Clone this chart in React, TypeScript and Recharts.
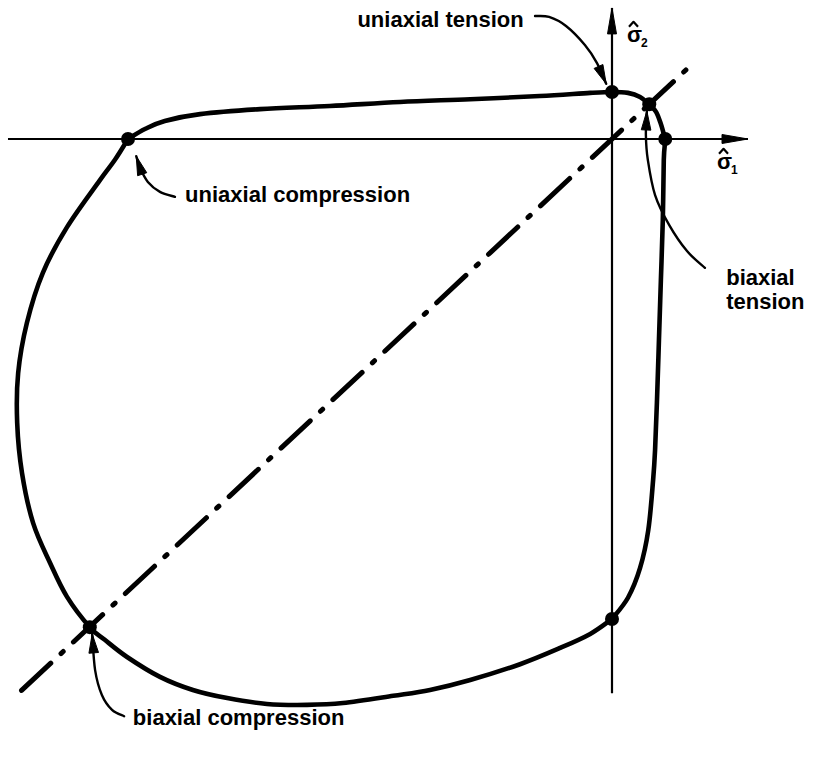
import React from 'react';
import { ComposedChart, Line, Scatter, XAxis, YAxis } from 'recharts';

// ---- data (normalised stresses) ----
const UPPER_BRANCH: number[][] = [
  [-1.0, 0.0], [-0.965, 0.022], [-0.924, 0.04], [-0.851, 0.055], [-0.727, 0.066],
  [-0.583, 0.073], [-0.438, 0.082], [-0.293, 0.088], [-0.149, 0.095], [-0.045, 0.102],
  [0.0, 0.104], [0.033, 0.102], [0.058, 0.093], [0.076, 0.077], [0.091, 0.06],
  [0.101, 0.033], [0.107, 0.011], [0.11, 0.0], [0.107, -0.046], [0.105, -0.179],
  [0.101, -0.312], [0.097, -0.445], [0.093, -0.577], [0.089, -0.688], [0.085, -0.754],
  [0.075, -0.865], [0.058, -0.949], [0.033, -1.015], [0.0, -1.062],
];
const LOWER_BRANCH: number[][] = [
  [0.0, -1.062], [-0.045, -1.095], [-0.107, -1.126], [-0.19, -1.162], [-0.293, -1.197],
  [-0.376, -1.219], [-0.452, -1.232], [-0.556, -1.248], [-0.63, -1.252], [-0.713, -1.25],
  [-0.795, -1.237], [-0.866, -1.219], [-0.934, -1.19], [-1.002, -1.146], [-1.048, -1.108],
  [-1.079, -1.08], [-1.126, -1.013], [-1.161, -0.938], [-1.196, -0.85], [-1.219, -0.739],
  [-1.229, -0.628], [-1.227, -0.518], [-1.209, -0.407], [-1.176, -0.296], [-1.126, -0.195],
  [-1.058, -0.091], [-1.027, -0.046], [-1.0, 0.0],
];
const KEY_STATES: number[][] = [
  [-1.0, 0.0], [0.0, 0.104], [0.077, 0.077], [0.11, 0.0], [-1.079, -1.08], [0.0, -1.062],
];
const DIAGONAL: number[][] = [[-1.22, -1.22], [0.16, 0.16]];
const AXIS_S1: number[][] = [[-1.248, 0], [0.281, 0]];
const AXIS_S2: number[][] = [[0, -1.226], [0, 0.29]];

const LEADER_UT: number[][] = [[-0.159, 0.272], [-0.13, 0.27], [-0.095, 0.25], [-0.056, 0.208], [-0.031, 0.168], [-0.012, 0.122]];
const LEADER_UC: number[][] = [[-0.903, -0.128], [-0.934, -0.117], [-0.959, -0.095], [-0.975, -0.064], [-0.983, -0.038]];
const LEADER_BT: number[][] = [[0.192, -0.285], [0.155, -0.248], [0.118, -0.19], [0.089, -0.124], [0.074, -0.046], [0.07, 0.009], [0.072, 0.062]];
const LEADER_BC: number[][] = [[-1.008, -1.277], [-1.033, -1.263], [-1.054, -1.23], [-1.068, -1.175], [-1.074, -1.095]];

const LABEL_TEXTS = ['uniaxial tension', 'uniaxial compression', 'biaxial', 'tension', 'biaxial compression'];
const LABEL_POS: number[][] = [[-0.526, 0.248], [-0.882, -0.139], [0.236, -0.323], [0.236, -0.376], [-0.99, -1.296]];
const AXIS_SUBS = ['2', '1'];
const AXIS_LABEL_POS: number[][] = [[0.031, 0.215], [0.217, -0.066]];

// ---- chart frame ----
const W = 813;
const H = 758;
const XD: [number, number] = [-1.2645, 0.4153];
const YD: [number, number] = [-1.3695, 0.3075];
const PX_X = W / (XD[1] - XD[0]);
const PX_Y = H / (YD[1] - YD[0]);
const INK = '#000';
const FONT = '"Liberation Sans", Arial, sans-serif';

const toPts = (a: number[][]) => a.map(([x, y]) => ({ x, y }));

const catmullRom = (context: any) => {
  let pts: number[][] = [];
  return {
    areaStart() {},
    areaEnd() {},
    lineStart() { pts = []; },
    point(x: number, y: number) { pts.push([+x, +y]); },
    lineEnd() {
      const n = pts.length;
      if (!n) return;
      context.moveTo(pts[0][0], pts[0][1]);
      for (let i = 0; i < n - 1; i++) {
        const p0 = pts[Math.max(0, i - 1)];
        const p1 = pts[i];
        const p2 = pts[i + 1];
        const p3 = pts[Math.min(n - 1, i + 2)];
        context.bezierCurveTo(
          p1[0] + (p2[0] - p0[0]) / 6, p1[1] + (p2[1] - p0[1]) / 6,
          p2[0] - (p3[0] - p1[0]) / 6, p2[1] - (p3[1] - p1[1]) / 6,
          p2[0], p2[1],
        );
      }
    },
  };
};

const headData = (a: number[][]) => {
  const [fx, fy] = a[a.length - 2];
  const [x, y] = a[a.length - 1];
  return { x, y, fx, fy };
};

const makeHead = (L: number, hw: number) => (props: any) => {
  const { cx, cy, payload } = props;
  const dx = (payload.x - payload.fx) * PX_X;
  const dy = -(payload.y - payload.fy) * PX_Y;
  const len = Math.hypot(dx, dy) || 1;
  const ux = dx / len;
  const uy = dy / len;
  const bx = cx - ux * L;
  const by = cy - uy * L;
  const pts = `${cx},${cy} ${bx - uy * hw},${by + ux * hw} ${bx + uy * hw},${by - ux * hw}`;
  return <polygon points={pts} fill={INK} stroke={INK} strokeWidth={1} strokeLinejoin="round" />;
};
const AxisHead = makeHead(26, 4.5);
const LeaderHead = makeHead(19, 4.8);

const Dot = (props: any) => <circle cx={props.cx} cy={props.cy} r={7} fill={INK} />;

const LabelShape = (props: any) => (
  <text x={props.cx} y={props.cy} fontFamily={FONT} fontWeight="bold" fontSize={22} fill={INK}>
    {props.payload.text}
  </text>
);

const SigmaShape = (props: any) => {
  const { cx, cy, payload } = props;
  return (
    <g fill={INK}>
      <text x={cx} y={cy} fontFamily={FONT} fontWeight="bold" fontSize={22}>σ</text>
      <path d={`M${cx + 2},${cy - 15} L${cx + 6.5},${cy - 20} L${cx + 11},${cy - 15}`} fill="none" stroke={INK} strokeWidth={2.2} strokeLinejoin="round" />
      <text x={cx + 14} y={cy + 5} fontFamily={FONT} fontWeight="bold" fontSize={12}>{payload.sub}</text>
    </g>
  );
};

const labelData = LABEL_TEXTS.map((text, i) => ({ text, x: LABEL_POS[i][0], y: LABEL_POS[i][1] }));
const sigmaData = AXIS_SUBS.map((sub, i) => ({ sub, x: AXIS_LABEL_POS[i][0], y: AXIS_LABEL_POS[i][1] }));
const axisHeads = [headData(AXIS_S1), headData(AXIS_S2)];
const leaderHeads = [LEADER_UT, LEADER_UC, LEADER_BT, LEADER_BC].map(headData);

export default function App() {
  const thin = { stroke: INK, strokeWidth: 2.2, dot: false, activeDot: false, isAnimationActive: false, type: 'linear' as const };
  const leader = { stroke: INK, strokeWidth: 2.4, dot: false, activeDot: false, isAnimationActive: false, type: catmullRom as any, strokeLinecap: 'round' as const };
  const thick = { stroke: INK, strokeWidth: 4.6, dot: false, activeDot: false, isAnimationActive: false, type: catmullRom as any, strokeLinecap: 'round' as const, strokeLinejoin: 'round' as const };
  return (
    <div style={{ position: 'absolute', left: 0, top: 0, width: W, height: H, background: '#fff' }}>
      <ComposedChart width={W} height={H} margin={{ top: 0, right: 0, bottom: 0, left: 0 }}>
        <XAxis type="number" dataKey="x" domain={XD} allowDataOverflow hide />
        <YAxis type="number" dataKey="y" domain={YD} allowDataOverflow hide />
        <Line data={toPts(AXIS_S1)} dataKey="y" {...thin} />
        <Line data={toPts(AXIS_S2)} dataKey="y" {...thin} />
        <Line data={toPts(DIAGONAL)} dataKey="y" stroke={INK} strokeWidth={5} strokeDasharray="40 14 3 14" strokeLinecap="round" dot={false} activeDot={false} isAnimationActive={false} type="linear" />
        <Line data={toPts(UPPER_BRANCH)} dataKey="y" {...thick} />
        <Line data={toPts(LOWER_BRANCH)} dataKey="y" {...thick} />
        <Line data={toPts(LEADER_UT)} dataKey="y" {...leader} />
        <Line data={toPts(LEADER_UC)} dataKey="y" {...leader} />
        <Line data={toPts(LEADER_BT)} dataKey="y" {...leader} />
        <Line data={toPts(LEADER_BC)} dataKey="y" {...leader} />
        <Scatter data={axisHeads} shape={AxisHead} isAnimationActive={false} />
        <Scatter data={leaderHeads} shape={LeaderHead} isAnimationActive={false} />
        <Scatter data={toPts(KEY_STATES)} shape={Dot} isAnimationActive={false} />
        <Scatter data={labelData} shape={LabelShape} isAnimationActive={false} />
        <Scatter data={sigmaData} shape={SigmaShape} isAnimationActive={false} />
      </ComposedChart>
    </div>
  );
}
